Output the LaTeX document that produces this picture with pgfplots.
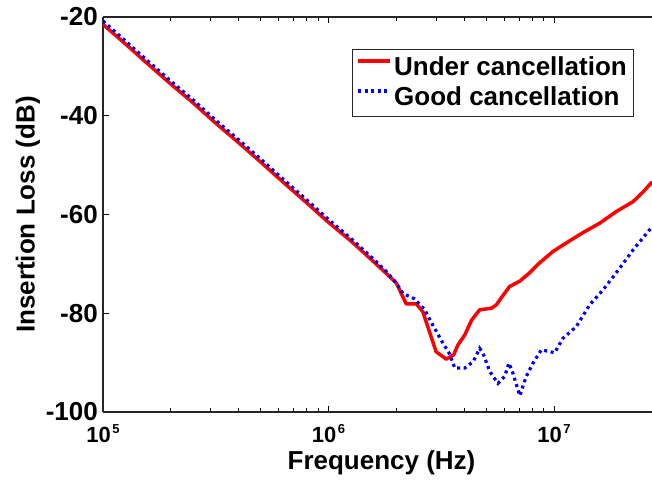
\documentclass[border=0pt]{standalone}
\usepackage{fontspec}
\setmainfont{Liberation Sans}
\usepackage{pgfplots}
\pgfplotsset{compat=1.18}
\pgfplotstableread{
f dB
1e5 -21.5
1.26e5 -25.5
1.58e5 -29.5
2e5 -33.6
2.51e5 -37.4
3.16e5 -41.5
3.98e5 -45.4
5.01e5 -49.4
6.31e5 -53.5
7.94e5 -57.5
1e6 -61.6
1.26e6 -65.4
1.58e6 -69.5
1.8e6 -71.9
2e6 -73.9
2.21e6 -78.1
2.45e6 -78.1
2.62e6 -79.7
3.0e6 -87.8
3.33e6 -89.3
3.59e6 -88.4
3.75e6 -86.4
4.02e6 -84.4
4.31e6 -81.4
4.68e6 -79.3
5.27e6 -79.0
5.55e6 -78.3
5.85e6 -76.8
6.35e6 -74.6
7.05e6 -73.5
7.8e6 -71.8
8.63e6 -69.8
9.89e6 -67.5
1.13e7 -65.8
1.34e7 -63.7
1.59e7 -61.8
1.89e7 -59.4
2.24e7 -57.4
2.50e7 -55.3
2.72e7 -53.4
}\under
\pgfplotstableread{
f dB
1e5 -20.8
1.26e5 -24.9
1.58e5 -28.9
2e5 -33.0
2.51e5 -36.8
3.16e5 -40.9
3.98e5 -44.8
5.01e5 -48.8
6.31e5 -52.9
7.94e5 -56.9
1e6 -61.0
1.26e6 -64.9
1.58e6 -69.0
1.8e6 -71.5
2e6 -73.9
2.14e6 -76.0
2.41e6 -77.1
2.67e6 -79.3
2.90e6 -82.4
3.22e6 -86.1
3.44e6 -88.2
3.63e6 -91.1
4.02e6 -91.1
4.38e6 -89.8
4.68e6 -87.1
4.84e6 -88.1
5.19e6 -91.8
5.64e6 -94.2
6.04e6 -92.8
6.31e6 -90.1
6.58e6 -92.2
7.05e6 -96.7
7.53e6 -92.8
8.07e6 -90.1
8.79e6 -87.4
1.007e7 -88.0
1.094e7 -85.1
1.256e7 -82.7
1.439e7 -78.3
1.648e7 -75.3
1.954e7 -70.9
2.239e7 -67.2
2.72e7 -62.5
}\good
\newcommand{\expo}[1]{10\kern1.5pt\raisebox{9pt}{\fontsize{13}{13}\selectfont #1}}
\begin{document}
\begin{tikzpicture}
\begin{axis}[
  name=ax,
  scale only axis, width=549pt, height=395pt,
  xmode=log, xmin=1e5, xmax=2.72e7, ymin=-100, ymax=-20,
  axis x line*=box, axis y line*=left,
  axis line style={line width=1.6pt, black!85},
  xtick={1e5,1e6,1e7},
  xticklabels={\expo{5},\expo{6},\expo{7}},
  ytick={-100,-80,-60,-40,-20},
  yticklabels={-100,-80,-60,-40,-20},
  tick align=inside, major tick length=6pt, minor tick length=4pt,
  every tick/.style={line width=0.9pt, black},
  xticklabel style={font=\fontsize{22}{26}\selectfont\bfseries, anchor=base, yshift=-31pt, inner sep=0pt},
  yticklabel style={font=\fontsize{26}{28}\selectfont\bfseries, anchor=east, inner sep=0pt, xshift=-5pt},
  xlabel={Frequency (Hz)}, ylabel={Insertion Loss (dB)},
  label style={font=\fontsize{26}{30}\selectfont\bfseries},
  xlabel style={at={(rel axis cs:0.5,0)}, anchor=base, yshift=-58pt, xshift=4pt, inner sep=0pt},
  ylabel style={at={(rel axis cs:0,0.5)}, anchor=center, yshift=75pt},
  legend style={at={(0.967,0.919)}, anchor=north east, draw=black!85, line width=1.2pt,
    font=\fontsize{26}{30}\selectfont\bfseries, inner xsep=4pt, inner ysep=6pt, row sep=5pt,
    nodes={text height=20pt, text depth=5pt, inner ysep=0pt, inner xsep=2.5pt}},
  legend cell align=left,
  legend image code/.code={\draw[#1] (0pt,7pt) -- (32pt,7pt);},
]
\addplot[red, line width=3.5pt, line join=round] table[x=f,y=dB]{\under};
\addlegendentry{Under cancellation}
\addplot[blue, line width=3.2pt, dash pattern=on 3pt off 3.6pt] table[x=f,y=dB]{\good};
\addlegendentry{Good cancellation}
\end{axis}
\pgfresetboundingbox
\path ([xshift=-103pt,yshift=-71pt]ax.south west) rectangle ([yshift=17pt]ax.north east);
\end{tikzpicture}
\end{document}
